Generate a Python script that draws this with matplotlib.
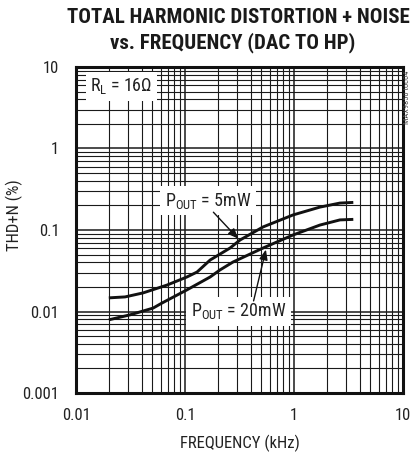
import matplotlib
matplotlib.use("Agg")
import matplotlib.pyplot as plt
from matplotlib import font_manager as fm
import numpy as np

fonts = fm.fontManager.ttflist
names = {f.name for f in fonts}
if "Liberation Sans Narrow" in names:
    FONT, STRETCH = "Liberation Sans Narrow", 'normal'
elif "Roboto Condensed" in names:
    FONT, STRETCH = "Roboto Condensed", 'normal'
else:
    FONT, STRETCH = "DejaVu Sans", 'condensed'
plt.rcParams['font.family'] = [FONT, 'DejaVu Sans']
plt.rcParams['font.stretch'] = STRETCH
plt.rcParams['mathtext.fontset'] = 'custom'
plt.rcParams['mathtext.rm'] = FONT
plt.rcParams['mathtext.it'] = FONT

# Data (frequency in kHz, THD+N in %)
freq_5mw = [0.02, 0.0282, 0.0412, 0.0684, 0.104, 0.129, 0.170, 0.259, 0.320, 0.520, 0.98, 1.73, 2.64, 3.5]
thd_5mw = [0.0147, 0.0151, 0.0169, 0.0211, 0.0265, 0.0305, 0.0428, 0.0601, 0.0754, 0.109, 0.153, 0.191, 0.214, 0.218]
freq_20mw = [0.02, 0.0313, 0.0509, 0.0615, 0.104, 0.170, 0.209, 0.276, 0.520, 0.98, 1.73, 2.64, 3.5]
thd_20mw = [0.0079, 0.0091, 0.0110, 0.0127, 0.0184, 0.0265, 0.0323, 0.0405, 0.0601, 0.0869, 0.115, 0.133, 0.135]

xticks = [0.01, 0.1, 1, 10]
xticklabels = ["0.01", "0.1", "1", "10"]
yticks = [0.001, 0.01, 0.1, 1, 10]
yticklabels = ["0.001", "0.01", "0.1", "1", "10"]

fig = plt.figure(figsize=(4.11, 4.54), dpi=100)
ax = fig.add_axes([76/411, 1-393/454, 327/411, 326/454])
ax.set_xscale('log')
ax.set_yscale('log')
ax.set_xlim(0.01, 10)
ax.set_ylim(0.001, 10)

# grid
for dec in [0.01, 0.1, 1]:
    for m in range(1, 10):
        v = dec * m
        if v <= 0.01 or v >= 10:
            continue
        ax.axvline(v, color='#1a1a1a', lw=1.1 if m == 1 else 0.8, zorder=1)
for dec in [0.001, 0.01, 0.1, 1]:
    for m in range(1, 10):
        v = dec * m
        if v <= 0.001 or v >= 10:
            continue
        ax.axhline(v, color='#1a1a1a', lw=1.1 if m == 1 else 0.8, zorder=1)

ax.plot(freq_5mw, thd_5mw, color='#111111', lw=2.1, zorder=4, solid_capstyle='butt')
ax.plot(freq_20mw, thd_20mw, color='#111111', lw=2.1, zorder=4, solid_capstyle='butt')

ax.set_xticks(xticks)
ax.set_xticklabels(xticklabels)
ax.set_yticks(yticks)
ax.set_yticklabels(yticklabels)
ax.minorticks_off()
ax.tick_params(length=0, labelsize=12, colors='#222222', pad=12)
ax.tick_params(axis='x', pad=11)
for s in ax.spines.values():
    s.set_linewidth(2.2)
    s.set_color('#111111')
    s.set_zorder(6)

ax.set_xlabel("FREQUENCY (kHz)", fontsize=12, color='#222222', labelpad=8)
ax.set_ylabel("THD+N (%)", fontsize=12, color='#222222', labelpad=3)
ax.yaxis.set_label_coords(-0.162, 0.545)

bb = dict(boxstyle='square,pad=0.25', fc='white', ec='none')
ax.text(0.0135, 5.8, r'$\mathregular{R_L}$ = 16Ω', fontsize=13, color='#222222',
        ha='left', va='center', bbox=bb, zorder=5)
ax.text(0.163, 0.227, r'$\mathregular{P_{OUT}}$ = 5mW', fontsize=13, color='#222222',
        ha='center', va='center', bbox=bb, zorder=5)
ax.text(0.31, 0.0101, r'$\mathregular{P_{OUT}}$ = 20mW', fontsize=13, color='#222222',
        ha='center', va='center', bbox=bb, zorder=5)

arrow = dict(arrowstyle='-|>,head_length=0.6,head_width=0.25', color='#111111', lw=1.0)
ax.annotate('', xy=(0.32, 0.074), xytext=(0.175, 0.175), arrowprops=arrow, zorder=5)
ax.annotate('', xy=(0.56, 0.062), xytext=(0.42, 0.0125), arrowprops=arrow, zorder=5)

fig.text(0.58, 0.961, "TOTAL HARMONIC DISTORTION + NOISE", ha='center', va='center',
         fontsize=15, fontweight='heavy', color='#1a1a1a')
fig.text(0.567, 0.905, "vs. FREQUENCY (DAC TO HP)", ha='center', va='center',
         fontsize=15, fontweight='heavy', color='#1a1a1a')
fig.text(407/411, 1-97/454, "MAX9850 toc04", rotation=90, ha='center', va='center',
         fontsize=6, color='#444444')

fig.savefig("out.png", dpi=100)
